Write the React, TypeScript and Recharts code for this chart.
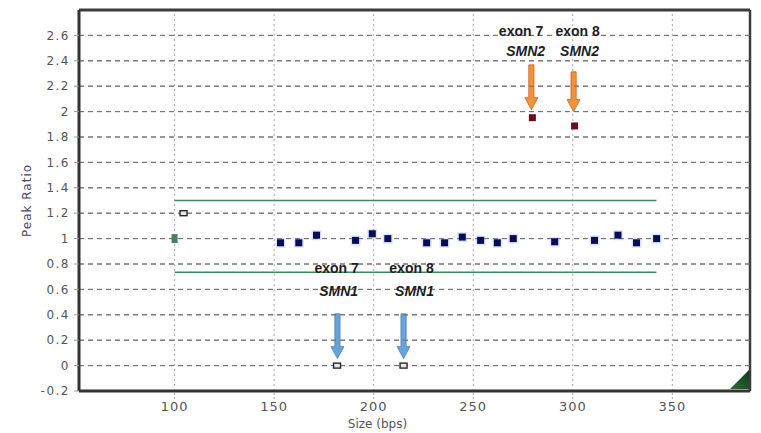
import React from 'react';
import { ScatterChart, Scatter, XAxis, YAxis, ReferenceLine, CartesianGrid } from 'recharts';

// ---- data ----
const xTicks = [100, 150, 200, 250, 300, 350];
const yTicks = [-0.2, 0, 0.2, 0.4, 0.6, 0.8, 1, 1.2, 1.4, 1.6, 1.8, 2, 2.2, 2.4, 2.6];

const probeSizes = [153.2, 162.4, 171.3, 190.9, 199.3, 207.1, 226.6, 235.6, 244.5, 253.7, 262.1, 270.1, 290.9, 310.9, 322.7, 332.0, 342.1];
const probeRatios = [0.967, 0.967, 1.027, 0.986, 1.038, 1.0, 0.967, 0.967, 1.012, 0.986, 0.967, 1.0, 0.975, 0.986, 1.027, 0.967, 1.0];

const smn2Sizes = [279.7, 300.9];
const smn2Ratios = [1.952, 1.887];

const refSizes = [100];
const refRatios = [1.0];

const openSizes = [104.5, 181.6, 215.0];
const openRatios = [1.2, 0.0, 0.0];

const upperLimit = 1.3;
const lowerLimit = 0.735;
const limitStart = 100;
const limitEnd = 342;

const arrowX = [279.2, 300.4, 181.8, 215.0];
const arrowFrom = [2.368, 2.313, 0.408, 0.408];
const arrowTo = [2.015, 2.0, 0.055, 0.055];
const arrowKind = ['orange', 'orange', 'blue', 'blue'];

const labelTexts = ['exon 7', 'SMN2', 'exon 8', 'SMN2', 'exon 7', 'SMN1', 'exon 8', 'SMN1'];
const labelX = [274.0, 276.3, 302.4, 303.4, 181.4, 182.4, 219.0, 220.5];
const labelY = [2.595, 2.438, 2.595, 2.438, 0.73, 0.55, 0.73, 0.55];
const labelItalic = [false, true, false, true, false, true, false, true];

const xMin = 52;
const xMax = 389;
const yMin = -0.2;
const yMax = 2.8;

// ---- built tables ----
const zip = (xs: number[], ys: number[]) => xs.map((x, i) => ({ x, y: ys[i] }));
const probeData = zip(probeSizes, probeRatios);
const smn2Data = zip(smn2Sizes, smn2Ratios);
const refData = zip(refSizes, refRatios);
const openData = zip(openSizes, openRatios);
const labelData = labelTexts.map((t, i) => ({ x: labelX[i], y: labelY[i], text: t, italic: labelItalic[i] }));

const NavySquare = (p: any) => (
  <g>
    <rect x={p.cx - 5} y={p.cy - 5} width={10} height={10} fill="#8fa0e8" opacity={0.3} />
    <rect x={p.cx - 3.5} y={p.cy - 3.5} width={7} height={7} fill="#0b0b55" />
  </g>
);
const RedSquare = (p: any) => (
  <rect x={p.cx - 3.5} y={p.cy - 3.5} width={7} height={7} fill="#6a0c22" />
);
const GreenSquare = (p: any) => (
  <rect x={p.cx - 3} y={p.cy - 4.5} width={6} height={9} fill="#4b7f5b" />
);
const OpenSquare = (p: any) => (
  <rect x={p.cx - 3.5} y={p.cy - 2.5} width={7} height={5} fill="#e8e8e8" stroke="#2a2a2a" strokeWidth={1.4} />
);
const LabelShape = (p: any) => (
  <text
    x={p.cx}
    y={p.cy}
    textAnchor="middle"
    fontFamily="Liberation Sans, Arial, sans-serif"
    fontWeight="bold"
    fontStyle={p.payload.italic ? 'italic' : 'normal'}
    fontSize={14}
    fill="#1e1e1e"
  >
    {p.payload.text}
  </text>
);

const makeArrow = (kind: string) => (p: any) => {
  const { x1, y1, x2, y2 } = p;
  if (x1 == null || y1 == null) return null;
  const x = (x1 + x2) / 2;
  const top = Math.min(y1, y2);
  const tip = Math.max(y1, y2);
  const headLen = 12;
  const sw = 2.6;
  const hw = 6.5;
  const fill = kind === 'orange' ? '#f08a28' : '#5b9bd5';
  const edge = kind === 'orange' ? '#c2561a' : '#3a78b5';
  const d = `M${x - sw},${top} L${x + sw},${top} L${x + sw},${tip - headLen} L${x + hw},${tip - headLen} L${x},${tip} L${x - hw},${tip - headLen} L${x - sw},${tip - headLen} Z`;
  return <path d={d} fill={fill} stroke={edge} strokeWidth={0.8} opacity={0.92} />;
};

const XLabel = (props: any) => {
  const vb = props.viewBox || { x: 79, y: 391, width: 671, height: 42 };
  return (
    <text x={vb.x + vb.width / 2 - 37} y={vb.y + 37} textAnchor="middle" fontFamily="DejaVu Sans, sans-serif" fontSize={12} fill="#555">
      Size (bps)
    </text>
  );
};
const YLabel = (props: any) => {
  const vb = props.viewBox || { x: 0, y: 10, width: 79, height: 381 };
  const cx = vb.x + 27;
  const cy = vb.y + vb.height / 2;
  return (
    <text x={cx} y={cy} transform={`rotate(-90 ${cx} ${cy})`} textAnchor="middle" dominantBaseline="central" fontFamily="DejaVu Sans, sans-serif" fontSize={12} letterSpacing={1} fill="#45456a">
      Peak Ratio
    </text>
  );
};

const fmt = (v: number) => String(Number(v.toFixed(1)));

export default function App() {
  return (
    <div style={{ position: 'absolute', left: 0, top: 0, width: 761, height: 433, background: '#fff' }}>
      <ScatterChart width={761} height={433} margin={{ top: 10, right: 11, bottom: 0, left: 0 }}>
        <CartesianGrid vertical={false} stroke="#747474" strokeDasharray="5 4" />
        <XAxis
          type="number"
          dataKey="x"
          domain={[xMin, xMax]}
          ticks={xTicks}
          allowDataOverflow
          height={42}
          axisLine={{ stroke: '#333', strokeWidth: 3 }}
          tickLine={{ stroke: '#aaa', strokeDasharray: '2 2' }}
          tickSize={8}
          tickMargin={3}
          tick={{ fill: '#555', fontSize: 13, fontFamily: 'DejaVu Sans', letterSpacing: 1 }}
          label={XLabel}
        />
        <YAxis
          type="number"
          dataKey="y"
          domain={[yMin, yMax]}
          ticks={yTicks}
          allowDataOverflow
          width={79}
          axisLine={{ stroke: '#333', strokeWidth: 3 }}
          tickLine={{ stroke: '#999' }}
          tickSize={5}
          tickMargin={4}
          tickFormatter={fmt}
          tick={{ fill: '#555', fontSize: 12, fontFamily: 'DejaVu Sans', letterSpacing: 1.5 }}
          label={YLabel}
        />
        {xTicks.map((t, i) => (
          <ReferenceLine key={'v' + i} segment={[{ x: t, y: yMin }, { x: t, y: yMax }]} stroke="#aaaaaa" strokeDasharray="2 3" ifOverflow="visible" />
        ))}
        <ReferenceLine segment={[{ x: xMin, y: yMax }, { x: xMax, y: yMax }]} stroke="#3c3c3c" strokeWidth={3} ifOverflow="visible" />
        <ReferenceLine segment={[{ x: xMax, y: yMin }, { x: xMax, y: yMax }]} stroke="#3c3c3c" strokeWidth={2.5} ifOverflow="visible" />
        <Scatter data={labelData} shape={LabelShape} isAnimationActive={false} />
        <ReferenceLine segment={[{ x: limitStart, y: upperLimit }, { x: limitEnd, y: upperLimit }]} stroke="#3f8a5c" strokeWidth={1.6} />
        <ReferenceLine segment={[{ x: limitStart, y: lowerLimit }, { x: limitEnd, y: lowerLimit }]} stroke="#3f8a5c" strokeWidth={1.6} />
        {arrowX.map((x, i) => (
          <ReferenceLine
            key={'a' + i}
            segment={[{ x, y: arrowFrom[i] }, { x, y: arrowTo[i] }]}
            shape={makeArrow(arrowKind[i])}
          />
        ))}
        <Scatter data={probeData} shape={NavySquare} isAnimationActive={false} />
        <Scatter data={smn2Data} shape={RedSquare} isAnimationActive={false} />
        <Scatter data={refData} shape={GreenSquare} isAnimationActive={false} />
        <Scatter data={openData} shape={OpenSquare} isAnimationActive={false} />
        {yTicks.map((t, i) => (
          <ReferenceLine key={'h' + i} y={t} stroke="#747474" strokeWidth={1} strokeDasharray="5 4" />
        ))}
      </ScatterChart>
      <svg style={{ position: 'absolute', left: 0, top: 0, pointerEvents: 'none' }} width={761} height={433}>
        <defs>
          <linearGradient id="cornerG" x1="0" y1="1" x2="1" y2="0">
            <stop offset="0" stopColor="#2f6b3c" />
            <stop offset="1" stopColor="#0f3a1c" />
          </linearGradient>
        </defs>
        <polygon points="730,389 749,389 749,370" fill="url(#cornerG)" />
      </svg>
    </div>
  );
}
